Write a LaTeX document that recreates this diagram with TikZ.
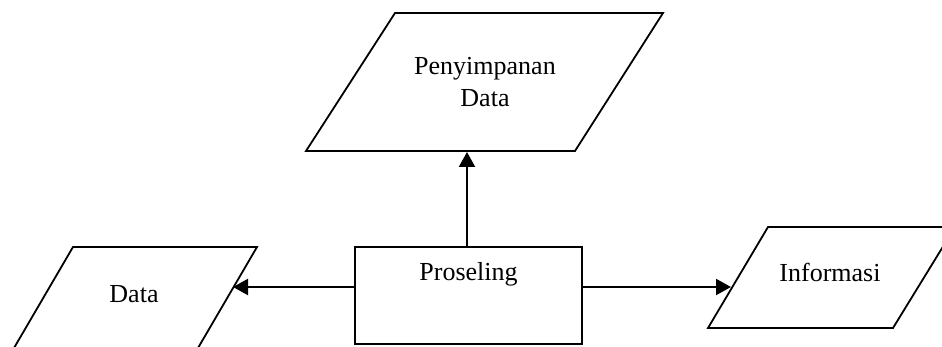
\documentclass[tikz,border=0pt]{standalone}
\usepackage{fontspec}
\setmainfont{Liberation Serif}
\usetikzlibrary{arrows.meta}
\begin{document}
\begin{tikzpicture}[x=1pt,y=-1pt,
  shapeline/.style={line width=1.8pt, line join=miter},
  lbl/.style={inner sep=0pt, anchor=base, align=center, font=\fontsize{26}{32}\selectfont},
  arr/.style={line width=2.2pt, -{Triangle[length=15pt,width=16pt]}}]
\clip (0,0) rectangle (942,347);
\useasboundingbox (0,0) rectangle (942,347);
% Penyimpanan Data
\draw[shapeline] (395,13) -- (663,13) -- (575,151) -- (306,151) -- cycle;
\node[lbl] (store) at (485,75) {Penyimpanan};
\node[lbl] (storeb) at (485,107) {Data};
\coordinate (storebottom) at (467,152);
% Data
\draw[shapeline] (73,247) -- (257,247) -- (191,360) -- (7,360) -- cycle;
\node[lbl] (data) at (134,302) {Data};
\coordinate (dataedge) at (233,287);
% Informasi
\draw[shapeline] (768,227) -- (955,227) -- (893,328) -- (708,328) -- cycle;
\node[lbl] (info) at (830,282) {Informasi};
\coordinate (infoedge) at (731,287);
% Proseling
\node[draw, line width=1.8pt, inner sep=0pt, minimum width=227pt,
  text height=34pt, text depth=63pt, anchor=north,
  font=\fontsize{26}{32}\selectfont] (proc) at (468.5,246) {Proseling};
% connectors
\draw[arr] (proc.north -| storebottom) -- (storebottom);
\draw[arr] (proc.west |- dataedge) -- (dataedge);
\draw[arr] (proc.east |- infoedge) -- (infoedge);
\end{tikzpicture}
\end{document}
